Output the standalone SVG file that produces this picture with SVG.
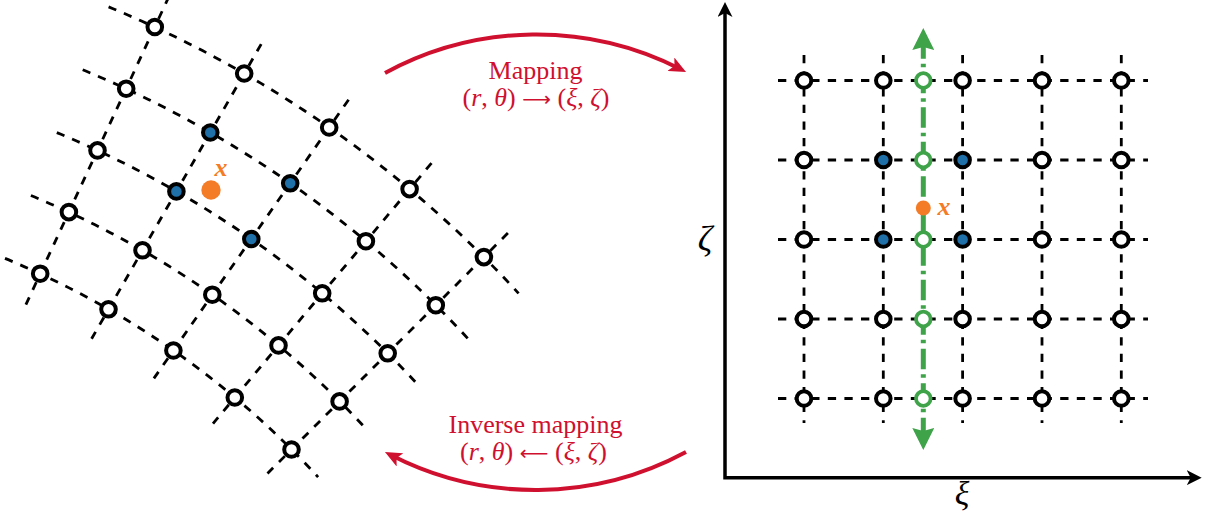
<svg xmlns="http://www.w3.org/2000/svg" width="1205" height="525" viewBox="0 0 1205 525">
<style>
.grid{fill:none;stroke:#000;stroke-width:2.8;stroke-dasharray:8.3 8.3}
.nd{fill:#fff;stroke:#000;stroke-width:4}
.bl{fill:#1f6fa8;stroke:#000;stroke-width:4}
.gn{fill:#fff;stroke:#3fa34a;stroke-width:3.8}
.org{fill:#f47c27}
.xl{font-family:"Liberation Serif",serif;font-style:italic;font-weight:bold;font-size:26px;fill:#f47c27;text-anchor:middle}
.rt{font-family:"Liberation Serif",serif;font-size:26px;fill:#d0102f;text-anchor:middle}
.it{font-style:italic}
.arr{font-family:"DejaVu Sans",sans-serif;font-size:20px}
.ax{font-family:"Liberation Serif",serif;font-style:italic;fill:#000;text-anchor:middle}
.red{fill:none;stroke:#d0102f;stroke-width:4}
</style>
<defs>
<marker id="ah-red" markerUnits="userSpaceOnUse" markerWidth="17" markerHeight="15" refX="11" refY="7.5" orient="auto" viewBox="0 0 17 15">
<path d="M0,0 L17,7.5 L0,15 L4,7.5 Z" fill="#d0102f"/>
</marker>
<marker id="ah-black" markerUnits="userSpaceOnUse" markerWidth="15" markerHeight="15" refX="9" refY="7.5" orient="auto-start-reverse" viewBox="0 0 15 15">
<path d="M0,0 L15,7.5 L0,15 L4,7.5 Z" fill="#000"/>
</marker>
<marker id="ah-green" markerUnits="userSpaceOnUse" markerWidth="22" markerHeight="22" refX="14" refY="11" orient="auto-start-reverse" viewBox="0 0 22 22">
<path d="M0,0 L22,11 L0,22 L3,11 Z" fill="#3fa34a"/>
</marker>
</defs>
<rect width="1205" height="525" fill="#fff"/>

<g id="connectors">
<path class="grid" d="M108.6,6.9 A1151,1151 0 0 1 518.6,293.4"/>
<path class="grid" d="M82.7,69.8 A1083,1083 0 0 1 468.5,339.3"/>
<path class="grid" d="M56.8,132.6 A1015,1015 0 0 1 418.4,385.3"/>
<path class="grid" d="M30.9,195.5 A947,947 0 0 1 368.2,431.2"/>
<path class="grid" d="M5.0,258.4 A879,879 0 0 1 318.1,477.1"/>
<path class="grid" d="M169.1,-3.8 L25.9,304.6"/>
<path class="grid" d="M261.2,44.1 L91.6,338.7"/>
<path class="grid" d="M348.6,99.7 L153.9,378.4"/>
<path class="grid" d="M431.5,163.1 L213.0,423.6"/>
<path class="grid" d="M507.9,233.1 L267.5,473.5"/>
<path class="grid" d="M778,80.5 H1148"/>
<path class="grid" d="M778,160 H1148"/>
<path class="grid" d="M778,239.5 H1148"/>
<path class="grid" d="M778,319 H1148"/>
<path class="grid" d="M778,398.5 H1148"/>
<path class="grid" d="M804,55 V423"/>
<path class="grid" d="M883.3,55 V423"/>
<path class="grid" d="M962.6,55 V423"/>
<path class="grid" d="M1042,55 V423"/>
<path class="grid" d="M1121.3,55 V423"/>
<path d="M923.3,36 V442" fill="none" stroke="#3fa34a" stroke-width="5" stroke-dasharray="20.5 5 3.5 5.5" stroke-dashoffset="32.25" marker-start="url(#ah-green)" marker-end="url(#ah-green)"/>
<path d="M725,8 V477.7 H1195.7" fill="none" stroke="#000" stroke-width="3.5" marker-start="url(#ah-black)" marker-end="url(#ah-black)"/>
<path class="red" d="M385,73 A317,317 0 0 1 680.7,69.2" marker-end="url(#ah-red)"/>
<path class="red" d="M686,452 A317,317 0 0 1 390.3,454.8" marker-end="url(#ah-red)"/>
</g>

<g id="left-nodes">
<g id="L00"><circle class="nd" cx="154.8" cy="27.0" r="7.3"/></g>
<g id="L01"><circle class="nd" cx="244.2" cy="73.5" r="7.3"/></g>
<g id="L02"><circle class="nd" cx="329.2" cy="127.5" r="7.3"/></g>
<g id="L03"><circle class="nd" cx="409.6" cy="189.1" r="7.3"/></g>
<g id="L04"><circle class="nd" cx="483.9" cy="257.1" r="7.3"/></g>
<g id="L10"><circle class="nd" cx="126.2" cy="88.7" r="7.3"/></g>
<g id="L11"><circle class="bl" cx="210.3" cy="132.5" r="7.3"/></g>
<g id="L12"><circle class="bl" cx="290.2" cy="183.3" r="7.3"/></g>
<g id="L13"><circle class="nd" cx="365.9" cy="241.2" r="7.3"/></g>
<g id="L14"><circle class="nd" cx="435.8" cy="305.2" r="7.3"/></g>
<g id="L20"><circle class="nd" cx="97.5" cy="150.4" r="7.3"/></g>
<g id="L21"><circle class="bl" cx="176.4" cy="191.4" r="7.3"/></g>
<g id="L22"><circle class="bl" cx="251.3" cy="239.0" r="7.3"/></g>
<g id="L23"><circle class="nd" cx="322.2" cy="293.3" r="7.3"/></g>
<g id="L24"><circle class="nd" cx="387.7" cy="353.3" r="7.3"/></g>
<g id="L30"><circle class="nd" cx="68.9" cy="212.1" r="7.3"/></g>
<g id="L31"><circle class="nd" cx="142.5" cy="250.3" r="7.3"/></g>
<g id="L32"><circle class="nd" cx="212.3" cy="294.7" r="7.3"/></g>
<g id="L33"><circle class="nd" cx="278.5" cy="345.4" r="7.3"/></g>
<g id="L34"><circle class="nd" cx="339.6" cy="401.4" r="7.3"/></g>
<g id="L40"><circle class="nd" cx="40.2" cy="273.7" r="7.3"/></g>
<g id="L41"><circle class="nd" cx="108.5" cy="309.3" r="7.3"/></g>
<g id="L42"><circle class="nd" cx="173.4" cy="350.5" r="7.3"/></g>
<g id="L43"><circle class="nd" cx="234.8" cy="397.5" r="7.3"/></g>
<g id="L44"><circle class="nd" cx="291.5" cy="449.5" r="7.3"/></g>
<g id="Lx"><circle class="org" cx="211" cy="190" r="9.7"/><text class="xl" x="221" y="176">x</text></g>
</g>

<g id="right-nodes">
<g id="R00"><circle class="nd" cx="804" cy="80.5" r="7.3"/></g>
<g id="R01"><circle class="nd" cx="883.3" cy="80.5" r="7.3"/></g>
<g id="R02"><circle class="nd" cx="962.6" cy="80.5" r="7.3"/></g>
<g id="R03"><circle class="nd" cx="1042" cy="80.5" r="7.3"/></g>
<g id="R04"><circle class="nd" cx="1121.3" cy="80.5" r="7.3"/></g>
<g id="R10"><circle class="nd" cx="804" cy="160" r="7.3"/></g>
<g id="R11"><circle class="bl" cx="883.3" cy="160" r="7.3"/></g>
<g id="R12"><circle class="bl" cx="962.6" cy="160" r="7.3"/></g>
<g id="R13"><circle class="nd" cx="1042" cy="160" r="7.3"/></g>
<g id="R14"><circle class="nd" cx="1121.3" cy="160" r="7.3"/></g>
<g id="R20"><circle class="nd" cx="804" cy="239.5" r="7.3"/></g>
<g id="R21"><circle class="bl" cx="883.3" cy="239.5" r="7.3"/></g>
<g id="R22"><circle class="bl" cx="962.6" cy="239.5" r="7.3"/></g>
<g id="R23"><circle class="nd" cx="1042" cy="239.5" r="7.3"/></g>
<g id="R24"><circle class="nd" cx="1121.3" cy="239.5" r="7.3"/></g>
<g id="R30"><circle class="nd" cx="804" cy="319" r="7.3"/></g>
<g id="R31"><circle class="nd" cx="883.3" cy="319" r="7.3"/></g>
<g id="R32"><circle class="nd" cx="962.6" cy="319" r="7.3"/></g>
<g id="R33"><circle class="nd" cx="1042" cy="319" r="7.3"/></g>
<g id="R34"><circle class="nd" cx="1121.3" cy="319" r="7.3"/></g>
<g id="R40"><circle class="nd" cx="804" cy="398.5" r="7.3"/></g>
<g id="R41"><circle class="nd" cx="883.3" cy="398.5" r="7.3"/></g>
<g id="R42"><circle class="nd" cx="962.6" cy="398.5" r="7.3"/></g>
<g id="R43"><circle class="nd" cx="1042" cy="398.5" r="7.3"/></g>
<g id="R44"><circle class="nd" cx="1121.3" cy="398.5" r="7.3"/></g>
<g id="G0"><circle class="gn" cx="923.3" cy="80.5" r="7.3"/></g>
<g id="G1"><circle class="gn" cx="923.3" cy="160" r="7.3"/></g>
<g id="G2"><circle class="gn" cx="923.3" cy="239.5" r="7.3"/></g>
<g id="G3"><circle class="gn" cx="923.3" cy="319" r="7.3"/></g>
<g id="G4"><circle class="gn" cx="923.3" cy="398.5" r="7.3"/></g>
<g id="Rx"><circle class="org" cx="923.3" cy="208" r="7.5"/><text class="xl" x="944" y="215">x</text></g>
</g>

<g id="labels">
<text class="rt" x="535.5" y="79">Mapping</text>
<text class="rt" x="536" y="106">(<tspan class="it">r</tspan>, <tspan class="it">θ</tspan>) <tspan class="arr">⟶</tspan> (<tspan class="it">ξ</tspan>, <tspan class="it">ζ</tspan>)</text>
<text class="rt" x="535.5" y="433">Inverse mapping</text>
<text class="rt" x="533.5" y="460">(<tspan class="it">r</tspan>, <tspan class="it">θ</tspan>) <tspan class="arr">⟵</tspan> (<tspan class="it">ξ</tspan>, <tspan class="it">ζ</tspan>)</text>
<text class="ax" x="705" y="251" font-size="36">ζ</text>
<text class="ax" x="962" y="505" font-size="34">ξ</text>
</g>
</svg>
